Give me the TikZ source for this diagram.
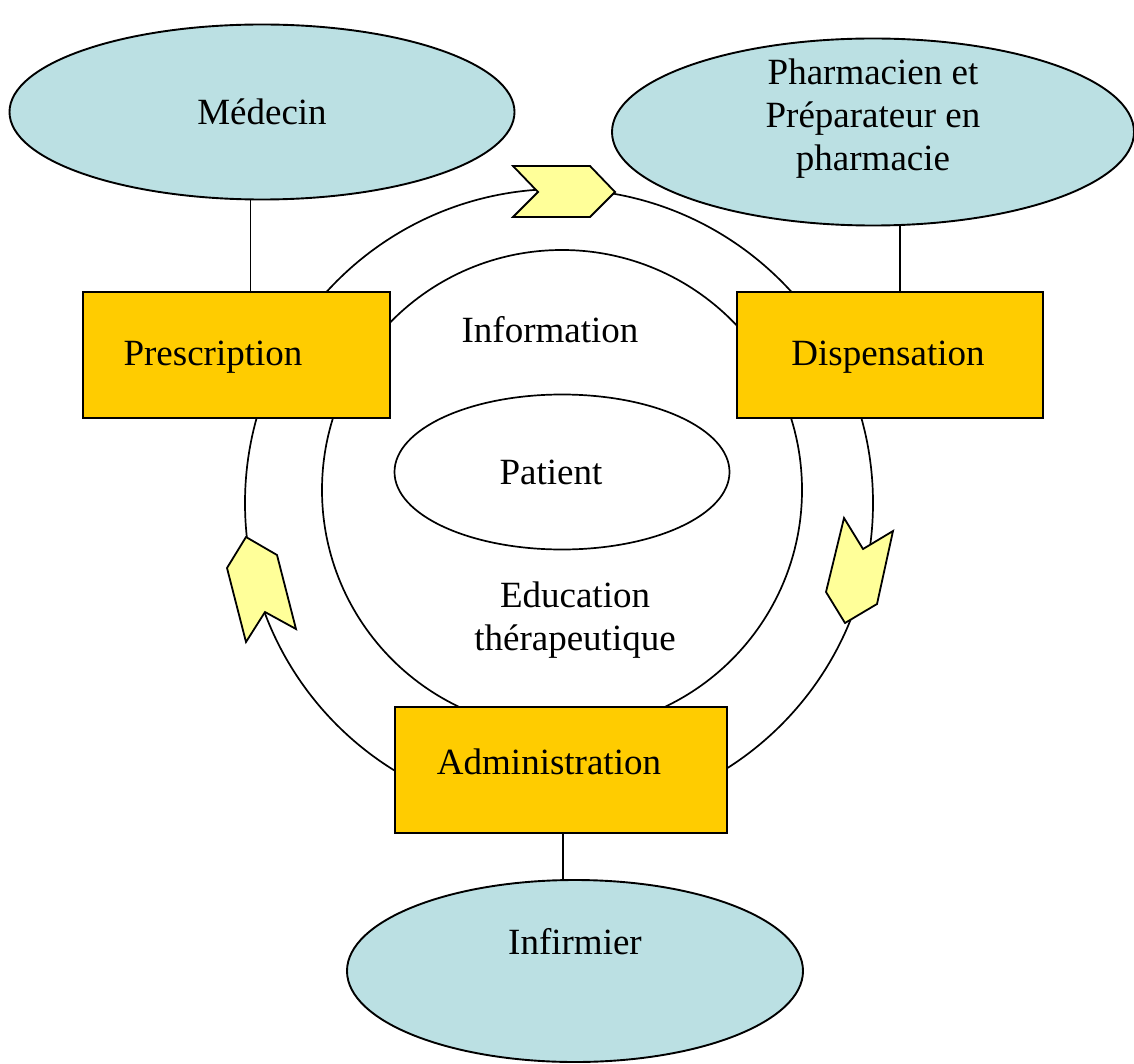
\documentclass[tikz,border=0pt]{standalone}
\usepackage{fontspec}
\setmainfont{Liberation Serif}
\usepackage{tikz}
\usetikzlibrary{positioning,shapes.geometric,calc}

\definecolor{acteur}{RGB}{187,224,227}
\definecolor{etape}{RGB}{255,204,0}
\definecolor{fleche}{RGB}{255,255,153}

\tikzset{
  txt/.style={font=\fontsize{37}{43}\selectfont, inner sep=0pt, align=center},
  acteur/.style={ellipse, draw, line width=1.9pt, fill=acteur, inner sep=0pt},
  etape/.style={rectangle, draw, line width=2.1pt, fill=etape, inner sep=0pt},
  cycle/.style={line width=1.7pt},
  chevron/.style={draw, line width=1.8pt, fill=fleche, line join=miter}
}

\begin{document}
\begin{tikzpicture}[x=1pt,y=-1pt]
  \useasboundingbox (0,0) rectangle (1134,1064);

  % les deux cercles
  \draw[cycle] (559,503) circle (314pt);
  \draw[cycle] (562,490) circle (240pt);

  % etapes
  \node[etape, minimum width=307pt, minimum height=126pt] (presc) at (236.5,355) {};
  \node[etape, minimum width=306pt, minimum height=126pt] (disp) at (890,355) {};
  \node[etape, minimum width=332pt, minimum height=126pt] (adm) at (561,770) {};

  % acteurs
  \node[acteur, minimum width=505pt, minimum height=175pt] (med) at (262,112) {};
  \node[acteur, minimum width=522pt, minimum height=187pt] (pharm) at (873,132) {};
  \node[acteur, minimum width=456pt, minimum height=182pt] (inf) at (575,971) {};
  \node[ellipse, draw, line width=1.7pt, fill=white, inner sep=0pt,
        minimum width=335pt, minimum height=155pt] (pat) at (562,472) {};

  % liens
  \draw[cycle] ([xshift=14pt]presc.north) -- ([xshift=14pt]presc.north |- med.south);
  \draw[cycle] ([xshift=10pt]disp.north) -- ([xshift=10pt]disp.north |- pharm.south);
  \draw[cycle] ([xshift=2pt]adm.south) -- ([xshift=2pt]adm.south |- inf.north);

  % fleches
  \draw[chevron] (513,166) -- (590,166) -- (615,192) -- (590,217) -- (513,217) -- (538,192) -- cycle;
  \draw[chevron] (246,537) -- (277,555) -- (296,629) -- (265,612) -- (246,642) -- (227,568) -- cycle;
  \draw[chevron] (844,518) -- (863,549) -- (893,531) -- (877,604) -- (845,623) -- (826,592) -- cycle;

  % textes
  \node[txt] (tmed) at (med.center) {Médecin};
  \node[txt] (tpharm) at (873,119) {Pharmacien et\\Préparateur en\\pharmacie};
  \node[txt] (tinf) at (575,942) {Infirmier};
  \node[txt] (tpresc) at (213,357) {Prescription};
  \node[txt] (tdisp) at (888,357) {Dispensation};
  \node[txt] (tadm) at (549,762) {Administration};
  \node[txt] (tinfo) at (550,330) {Information};
  \node[txt] (tpat) at (551,472) {Patient};
  \node[txt] (tedu) at (575,620) {Education\\thérapeutique};
\end{tikzpicture}
\end{document}
